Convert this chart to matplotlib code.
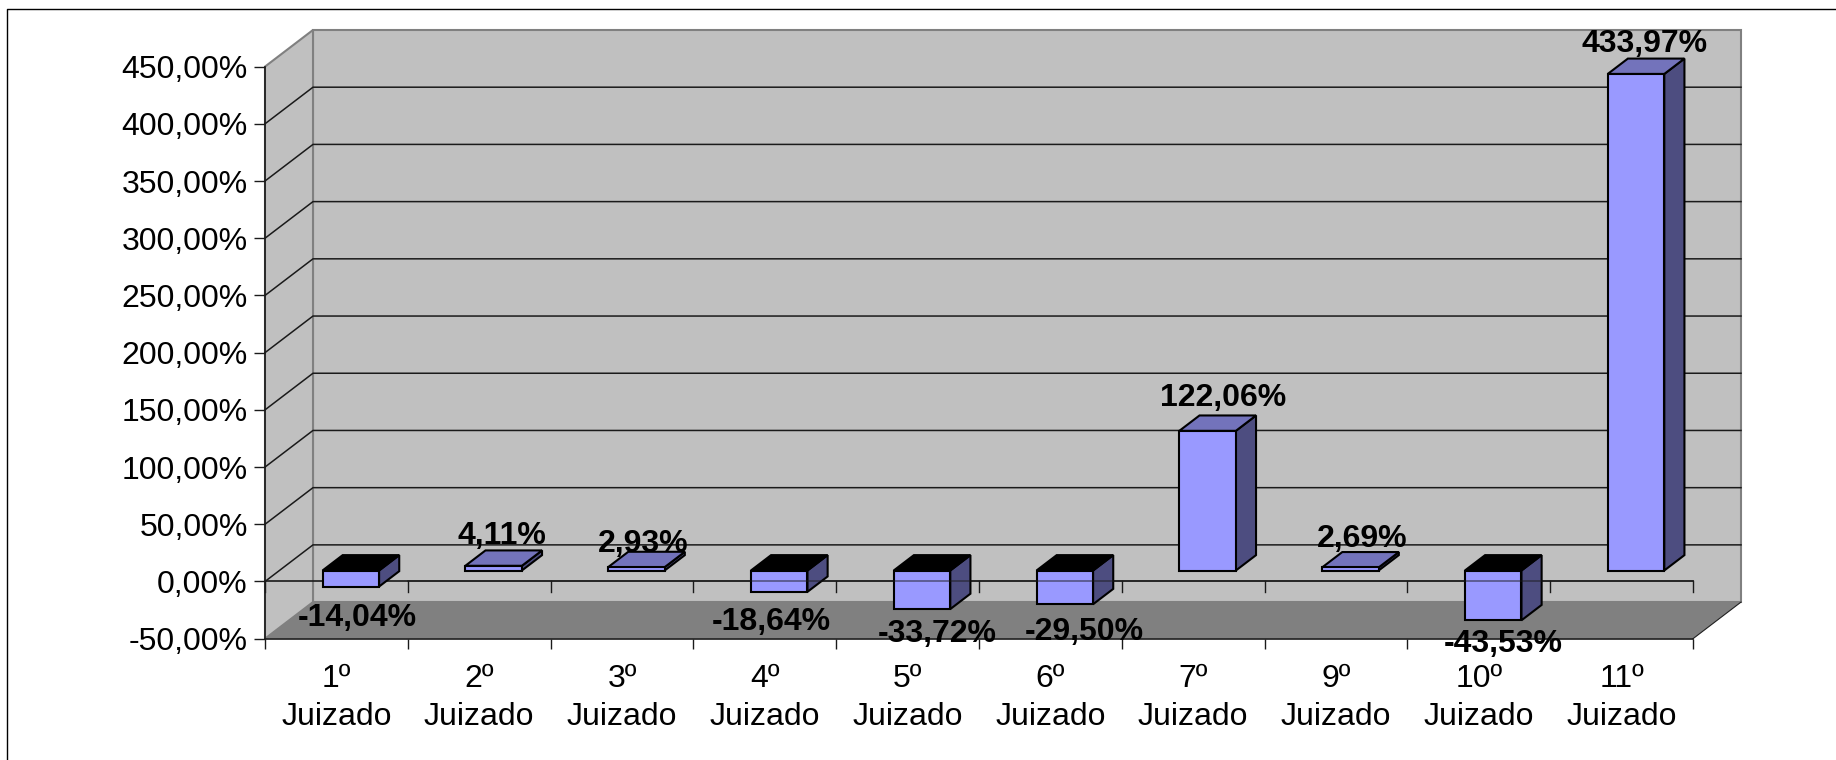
import matplotlib
matplotlib.use("Agg")
import matplotlib.pyplot as plt
from matplotlib.patches import Polygon

plt.rcParams['font.family'] = ['Liberation Sans', 'DejaVu Sans']

categories = ['1º', '2º', '3º', '4º', '5º', '6º', '7º', '9º', '10º', '11º']
values = [-14.04, 4.11, 2.93, -18.64, -33.72, -29.50, 122.06, 2.69, -43.53, 433.97]
y_ticks = [-50, 0, 50, 100, 150, 200, 250, 300, 350, 400, 450]

# label nudges, in pixels, per bar
label_dx = [7, 8, 7, -8, 15, 20, 16, 12, 10, 9]
label_dy = [28, -33, -27, 27, 21, 24, -36, -32, 20, -33]

W, H = 1836, 760
left, right, top, bottom = 265, 1693, 66.6, 638.7

# depth of the 3d box, in data units
dx = 48 / 142.8
dy = 32.0
bar_w = 0.396
d0, d1 = 0.30, 0.72


def proj(x, y, d):
    return (x + d * dx, y + d * dy)


def comma(v, dec=2):
    return f"{v:.{dec}f}".replace('.', ',') + '%'


fig = plt.figure(figsize=(W / 100, H / 100), dpi=100)
ax = fig.add_axes([left / W, 1 - bottom / H, (right - left) / W, (bottom - top) / H])
ax.set_xlim(0, len(categories))
ax.set_ylim(-50, 450)
ax.patch.set_visible(False)
n = len(categories)
y0, y1 = y_ticks[0], y_ticks[-1]

# walls and floor
wall = '#c0c0c0'
edge = '#808080'
ax.add_patch(Polygon([proj(0, y0, 1), proj(n, y0, 1), proj(n, y1, 1), proj(0, y1, 1)],
                     fc=wall, ec=edge, lw=1.5, clip_on=False, zorder=1))
ax.add_patch(Polygon([proj(0, y0, 0), proj(0, y0, 1), proj(0, y1, 1), proj(0, y1, 0)],
                     fc=wall, ec=edge, lw=1.5, clip_on=False, zorder=1))
ax.add_patch(Polygon([proj(0, y0, 0), proj(n, y0, 0), proj(n, y0, 1), proj(0, y0, 1)],
                     fc='#808080', ec='none', clip_on=False, zorder=2))
ax.plot(*zip(proj(n, y0, 0), proj(n, y0, 1)), color='#202020', lw=0.8, clip_on=False, zorder=2)

# grid on the walls
for t in y_ticks[1:-1]:
    ax.plot(*zip(proj(0, t, 0), proj(0, t, 1), proj(n, t, 1)), color='#1a1a1a', lw=1.1,
            clip_on=False, zorder=3)

# axis line at zero with its ticks
ax.plot([0, n], [0, 0], color='#1a1a1a', lw=1.2, zorder=3, clip_on=False)
for i in range(n + 1):
    ax.plot([i, i], [-9, 0], color='#1a1a1a', lw=1.0, zorder=3, clip_on=False)

# bars
for i, v in enumerate(values):
    xa = i + 0.5 - bar_w / 2
    xb = i + 0.5 + bar_w / 2
    low, high = min(v, 0), max(v, 0)
    front = [proj(xa, low, d0), proj(xb, low, d0), proj(xb, high, d0), proj(xa, high, d0)]
    side = [proj(xb, low, d0), proj(xb, low, d1), proj(xb, high, d1), proj(xb, high, d0)]
    cap = [proj(xa, high, d0), proj(xb, high, d0), proj(xb, high, d1), proj(xa, high, d1)]
    cap_color = '#000000' if v < 0 else '#7373bb'
    ax.add_patch(Polygon(side, fc='#4d4d80', ec='black', lw=1.5, clip_on=False, zorder=4, joinstyle='miter'))
    ax.add_patch(Polygon(cap, fc=cap_color, ec='black', lw=1.5, clip_on=False, zorder=4, joinstyle='miter'))
    ax.add_patch(Polygon(front, fc='#9999ff', ec='black', lw=1.5, clip_on=False, zorder=5, joinstyle='miter'))

# zero line shows faintly through the bars
ax.plot([1, n], [0, 0], color='#1a1a1a', lw=1.2, alpha=0.55, zorder=6, clip_on=False)

# data labels
for i, v in enumerate(values):
    anchor = proj(i + 0.5, v, d0)
    ax.annotate(comma(v), anchor, xytext=(label_dx[i] * 0.72, -label_dy[i] * 0.72),
                textcoords='offset points', ha='center', va='center_baseline',
                fontsize=23, fontweight='bold', color='black', zorder=7, annotation_clip=False)

# axes
for s in ['top', 'right']:
    ax.spines[s].set_visible(False)
for s in ['left', 'bottom']:
    ax.spines[s].set_color('#1a1a1a')
    ax.spines[s].set_linewidth(1.2)
    ax.spines[s].set_zorder(3)

ax.set_yticks(y_ticks)
ax.set_yticklabels([comma(t) for t in y_ticks])
ax.tick_params(axis='y', length=8, width=1.0, pad=4.5, labelsize=23, color='#1a1a1a')
ax.set_xticks(range(n + 1))
ax.set_xticklabels([])
ax.set_xticks([i + 0.5 for i in range(n)], minor=True)
ax.set_xticklabels([c + '\nJuizado' for c in categories], minor=True, linespacing=1.38)
ax.tick_params(axis='x', which='major', length=7.5, width=1.0, color='#1a1a1a')
ax.tick_params(axis='x', which='minor', length=0, pad=18, labelsize=23)

# chart frame, only top and left show
fig.add_artist(plt.Line2D([6.5 / W, 6.5 / W, 1], [0, 1 - 8.5 / H, 1 - 8.5 / H], color='black', lw=1.0))

fig.savefig('out.png', dpi=100)
